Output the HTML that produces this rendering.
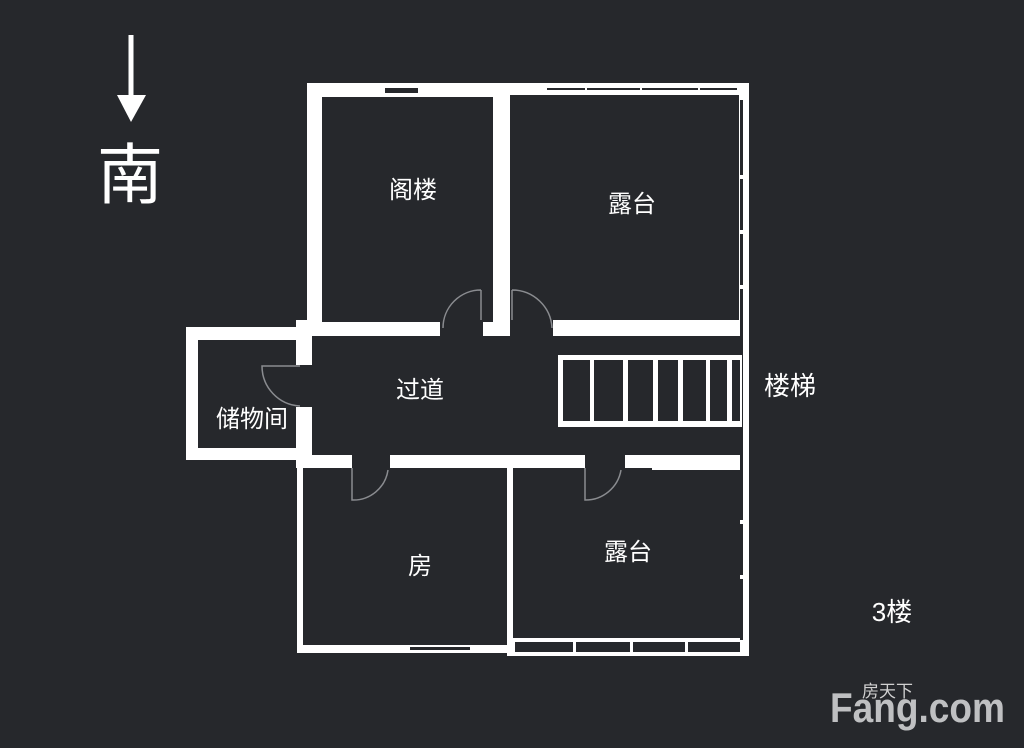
<!DOCTYPE html>
<html><head><meta charset="utf-8"><style>
html,body{margin:0;padding:0;background:#26282c;}
svg{display:block}
text{font-family:"Liberation Sans","Noto Sans CJK SC",sans-serif;fill:#fff}
</style></head><body>
<svg width="1024" height="748" viewBox="0 0 1024 748" xmlns="http://www.w3.org/2000/svg">
<rect width="1024" height="748" fill="#26282c"/>
<!-- compass -->
<rect x="128.5" y="35" width="5" height="62" fill="#fff"/>
<polygon points="117,95 146,95 131,122" fill="#fff"/>
<text x="130" y="198" font-size="66" text-anchor="middle">南</text>

<g fill="#fff">
<rect x="307" y="83" width="441" height="14"/>
<rect x="307" y="83" width="15" height="252"/>
<rect x="493" y="83" width="17" height="252"/>
<rect x="739" y="83" width="10" height="390"/>
<rect x="300" y="320" width="449" height="16"/>
<rect x="186" y="327" width="126" height="13"/>
<rect x="186" y="327" width="12" height="133"/>
<rect x="186" y="448" width="126" height="12"/>
<rect x="296" y="320" width="16" height="148"/>
<rect x="296" y="455" width="453" height="13"/>
<rect x="652" y="455" width="97" height="15"/>
<rect x="297" y="455" width="6" height="197"/>
<rect x="297" y="645" width="215" height="8"/>
<rect x="507" y="462" width="6" height="193"/>
<rect x="507" y="638" width="242" height="18"/>
<rect x="740" y="460" width="9" height="196"/>
</g>
<g fill="#26282c">
<rect x="322" y="98" width="171" height="224"/>
<rect x="510" y="95" width="229" height="225"/>
<rect x="312" y="336" width="428" height="119"/>
<rect x="198" y="340" width="98" height="108"/>
<rect x="296" y="365" width="16" height="42"/>
<rect x="440" y="320" width="43" height="16"/>
<rect x="510" y="320" width="43" height="16"/>
<rect x="352" y="455" width="38" height="13"/>
<rect x="585" y="455" width="40" height="13"/>
<rect x="303" y="468" width="204" height="177"/>
<rect x="513" y="470" width="227" height="168"/>
<rect x="385" y="88" width="33" height="5"/>
<rect x="547" y="88" width="190" height="2"/>
<rect x="740" y="100" width="3" height="540"/>
<rect x="410" y="647" width="60" height="3"/>
<rect x="515" y="642" width="225" height="10"/>
</g>
<g fill="#fff">
<rect x="585" y="88" width="2" height="2"/><rect x="640" y="88" width="2" height="2"/><rect x="698" y="88" width="2" height="2"/>
<rect x="740" y="175" width="3" height="4"/><rect x="740" y="230" width="3" height="4"/><rect x="740" y="285" width="3" height="4"/>
<rect x="740" y="520" width="3" height="4"/><rect x="740" y="575" width="3" height="4"/>
<rect x="573" y="642" width="3" height="10"/><rect x="630" y="642" width="3" height="10"/><rect x="685" y="642" width="3" height="10"/>
</g>
<g fill="#fff"><rect x="558" y="355" width="184" height="72"/></g>
<g fill="#26282c">
<rect x="563" y="360" width="27" height="61"/>
<rect x="594" y="360" width="29" height="61"/>
<rect x="628" y="360" width="25" height="61"/>
<rect x="658" y="360" width="20" height="61"/>
<rect x="683" y="360" width="23" height="61"/>
<rect x="710" y="360" width="17" height="61"/>
<rect x="732" y="360" width="8" height="61"/>
</g>
<g fill="none" stroke="#8a8c90" stroke-width="1.5">
<path d="M481 320 V290 M481 290 A38 38 0 0 0 443 328"/>
<path d="M512 320 V290 M512 290 A40 40 0 0 1 552 328"/>
<path d="M300 366 H262 A40 40 0 0 0 300 406"/>
<path d="M352 468 V500 A35 35 0 0 0 388 470"/>
<path d="M585 468 V500 A36 36 0 0 0 621 470"/>
</g>
<g font-size="24" text-anchor="middle">
<text x="413" y="198">阁楼</text>
<text x="632" y="212">露台</text>
<text x="420" y="398">过道</text>
<text x="252" y="427">储物间</text>
<text x="420" y="574">房</text>
<text x="628" y="560">露台</text>
</g>
<text x="790" y="395" font-size="26" text-anchor="middle">楼梯</text>
<text x="892" y="621" font-size="26" text-anchor="middle">3楼</text>
<text x="830" y="722" font-size="42" font-weight="bold" style="fill:#bfc0c2" textLength="175" lengthAdjust="spacingAndGlyphs">Fang.com</text>
<text x="862" y="697" font-size="17" style="fill:#d0d0d0">房天下</text>
</svg>
</body></html>
